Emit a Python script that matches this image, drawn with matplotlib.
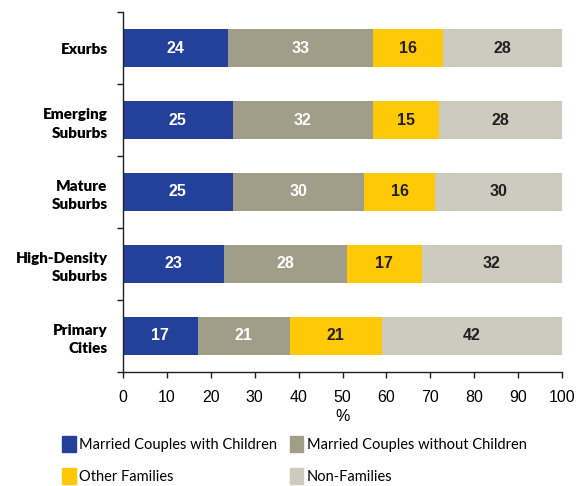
import matplotlib.pyplot as plt
from matplotlib.patches import Patch
import numpy as np

categories = ["Exurbs", "Emerging\nSuburbs", "Mature\nSuburbs",
              "High-Density\nSuburbs", "Primary\nCities"]
series_names = ["Married Couples with Children", "Married Couples without Children",
                "Other Families", "Non-Families"]
married_kids = [24, 25, 25, 23, 17]
married_no_kids = [33, 32, 30, 28, 21]
other_families = [16, 15, 16, 17, 21]
non_families = [28, 28, 30, 32, 42]
x_ticks = list(range(0, 101, 10))

colors = ["#23409a", "#a09d89", "#ffc907", "#cdcabe"]
text_colors = ["white", "white", "#231f20", "#231f20"]

fig = plt.figure(figsize=(5.83, 4.86), dpi=100)
ax = fig.add_axes([0.211, 0.235, 0.753, 0.740])

y = np.arange(len(categories))
left = np.zeros(len(categories))
for vals, col, tcol in zip([married_kids, married_no_kids, other_families, non_families],
                           colors, text_colors):
    vals = np.array(vals, dtype=float)
    ax.barh(y, vals, left=left, height=0.52, color=col, edgecolor="none")
    for yi, l, v in zip(y, left, vals):
        cx = (l + min(l + v, 100)) / 2
        ax.text(cx, yi, f"{v:.0f}", ha="center", va="center", color=tcol,
                fontsize=11.5, fontweight="bold", family="Liberation Sans")
    left += vals

ax.set_xlim(0, 100)
ax.set_ylim(len(categories) - 0.5, -0.5)

ax.set_xticks(x_ticks)
ax.set_xticklabels([str(t) for t in x_ticks], fontsize=11.5, family="Liberation Sans")
ax.set_xlabel("%", fontsize=11.5, family="Liberation Sans", labelpad=3)

# boundary ticks between categories, labels on the centres
ax.set_yticks(np.arange(-0.5, len(categories)), labels=[""] * (len(categories) + 1))
ax.set_yticks(y, minor=True)
ax.set_yticklabels(categories, minor=True, fontsize=11, fontweight="heavy",
                   family="Lato", ha="right", linespacing=1.5)
ax.tick_params(axis="y", which="minor", length=0, pad=11)
ax.tick_params(axis="y", which="major", length=4, width=1, color="#231f20")
ax.tick_params(axis="x", length=4, width=1, color="#231f20", pad=9)

for side in ["top", "right"]:
    ax.spines[side].set_visible(False)
for side in ["left", "bottom"]:
    ax.spines[side].set_color("#231f20")
    ax.spines[side].set_linewidth(1)

handles = [Patch(color=c) for c in colors]
order = [0, 2, 1, 3]
fig.legend([handles[i] for i in order], [series_names[i] for i in order],
           ncol=2, loc="upper left", bbox_to_anchor=(0.107, 0.102),
           frameon=False, prop={"family": "Lato", "size": 10.5},
           handlelength=0.9, handleheight=1.3, handletextpad=0.25,
           columnspacing=0.9, labelspacing=1.1, borderaxespad=0, borderpad=0)

fig.savefig("out.png", dpi=100)
